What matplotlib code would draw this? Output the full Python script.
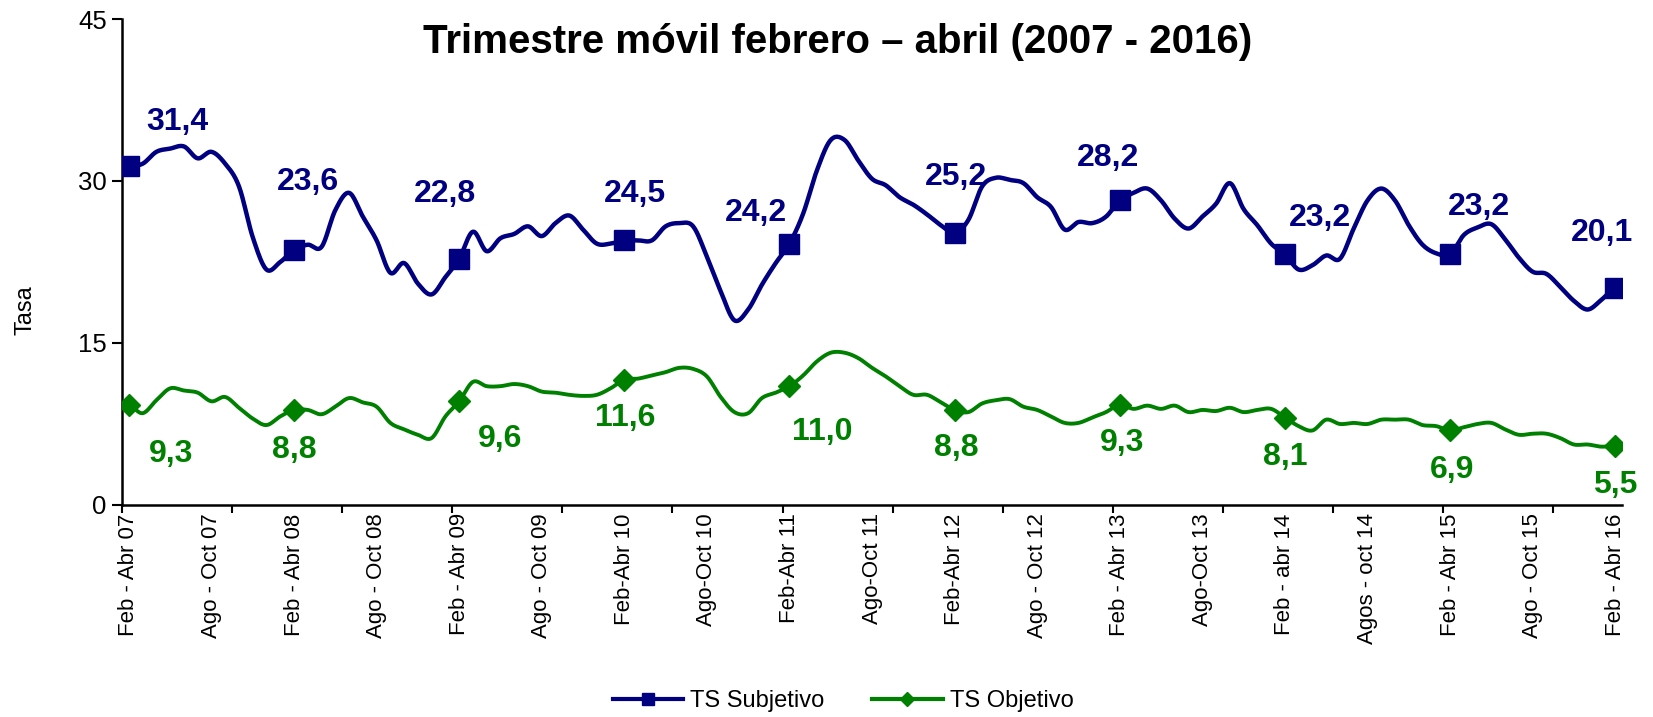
import numpy as np
import matplotlib
matplotlib.use('Agg')
import matplotlib.pyplot as plt
from matplotlib.lines import Line2D

plt.rcParams['font.family'] = ['Liberation Sans', 'DejaVu Sans']

# moving quarter, monthly from Feb-Abr 07 to Feb-Abr 16
ts_subjetivo = [31.4, 31.6, 32.7, 33.0, 33.2, 32.1, 32.7, 31.6, 29.5, 24.8,
                21.8, 22.5, 23.6, 24.1, 23.9, 27.3, 28.9, 26.7, 24.5, 21.5,
                22.4, 20.5, 19.5, 21.1, 22.8, 25.3, 23.5, 24.7, 25.1, 25.8,
                24.9, 26.1, 26.8, 25.5, 24.2, 24.2, 24.5, 24.5, 24.5, 25.8,
                26.1, 25.8, 23.0, 19.8, 17.1, 18.1, 20.4, 22.4, 24.2, 27.0,
                31.0, 33.8, 33.8, 31.9, 30.2, 29.6, 28.5, 27.8, 26.9, 25.9,
                25.2, 26.4, 29.5, 30.3, 30.1, 29.8, 28.5, 27.6, 25.5, 26.2,
                26.1, 26.7, 28.2, 28.9, 29.3, 28.2, 26.5, 25.6, 26.7, 27.9,
                29.8, 27.4, 25.9, 24.2, 23.2, 21.8, 22.2, 23.1, 22.8, 25.6,
                28.2, 29.3, 28.2, 25.9, 24.1, 23.3, 23.2, 25.0, 25.7, 26.0,
                24.6, 22.9, 21.6, 21.4, 20.2, 18.9, 18.1, 19.0, 20.1]

ts_objetivo = [9.3, 8.5, 9.7, 10.8, 10.6, 10.4, 9.6, 10.0, 9.0, 8.0,
               7.4, 8.2, 8.8, 8.8, 8.4, 9.1, 9.9, 9.5, 9.1, 7.6,
               7.0, 6.5, 6.2, 8.2, 9.6, 11.4, 11.0, 11.0, 11.2, 11.0,
               10.5, 10.4, 10.2, 10.1, 10.2, 10.8, 11.6, 11.7, 12.0, 12.3,
               12.7, 12.6, 11.9, 10.0, 8.6, 8.5, 9.9, 10.4, 11.0, 12.0,
               13.3, 14.1, 14.1, 13.6, 12.7, 11.9, 11.0, 10.2, 10.2, 9.5,
               8.8, 8.6, 9.4, 9.7, 9.8, 9.1, 8.8, 8.2, 7.6, 7.6,
               8.1, 8.6, 9.3, 8.9, 9.2, 8.9, 9.2, 8.6, 8.8, 8.7,
               9.0, 8.6, 8.8, 8.9, 8.1, 7.3, 6.9, 7.9, 7.5, 7.6,
               7.5, 7.9, 7.9, 7.9, 7.4, 7.3, 6.9, 7.2, 7.5, 7.6,
               7.0, 6.5, 6.6, 6.6, 6.2, 5.6, 5.6, 5.4, 5.5]

periodos = ['Feb - Abr 07', 'Ago - Oct 07', 'Feb - Abr 08', 'Ago - Oct 08',
            'Feb - Abr 09', 'Ago - Oct 09', 'Feb-Abr 10', 'Ago-Oct 10',
            'Feb-Abr 11', 'Ago-Oct 11', 'Feb-Abr 12', 'Ago - Oct 12',
            'Feb - Abr 13', 'Ago-Oct 13', 'Feb - abr 14', 'Agos - oct 14',
            'Feb - Abr 15', 'Ago - Oct 15', 'Feb - Abr 16']

# label offsets (points) from the Feb-Abr markers
off_subj = [(34.6, 31.7), (10.1, 49), (-10.1, 46.8), (7.9, 33.1), (-24.5, 22.3),
            (0.7, 40.3), (-8.6, 30.2), (25.2, 25.9), (20.9, 33.8), (-9.4, 39.6)]
off_obj = [(30.2, -35.3), (0, -28.8), (29.5, -27.4), (0.7, -27.4), (23.8, -33.1),
           (1.4, -27.4), (1.4, -27.4), (0, -28.1), (1.4, -28.8), (0, -28.1)]

BLUE = '#000080'
GREEN = '#008000'


def smooth(y, n=16):
    # excel-like smoothed line (bezier through every point)
    y = np.asarray(y, float)
    p = np.concatenate([[y[0]], y, [y[-1]]])
    t = np.linspace(0, 1, n, endpoint=False)
    xs = []
    ys = []
    for i in range(len(y) - 1):
        p0, p1, p2, p3 = p[i], p[i + 1], p[i + 2], p[i + 3]
        c1 = p1 + (p2 - p0) / 6
        c2 = p2 - (p3 - p1) / 6
        b = (1 - t)**3 * p1 + 3 * (1 - t)**2 * t * c1 + 3 * (1 - t) * t**2 * c2 + t**3 * p2
        xs.append(i + t)
        ys.append(b)
    xs.append([len(y) - 1])
    ys.append([y[-1]])
    return np.concatenate(xs), np.concatenate(ys)


fig = plt.figure(figsize=(16.53, 7.17), dpi=100)
ax = fig.add_axes([0.0738, 0.2957, 0.9075, 0.6778])

x = np.arange(len(ts_subjetivo))
mk = x[::12]

sx, sy = smooth(ts_subjetivo)
ax.plot(sx, sy, color=BLUE, lw=3.2, solid_capstyle='round', zorder=3)
ax.plot(mk, np.array(ts_subjetivo)[mk], ls='none', marker='s', ms=14,
        color=BLUE, zorder=4)

gx, gy = smooth(ts_objetivo)
ax.plot(gx, gy, color=GREEN, lw=2.8, solid_capstyle='round', zorder=3)
ax.plot(mk, np.array(ts_objetivo)[mk], ls='none', marker='D', ms=11,
        color=GREEN, zorder=4)

for k, i in enumerate(mk):
    v = ts_subjetivo[i]
    ax.annotate(('%.1f' % v).replace('.', ','), (i, v), xytext=off_subj[k],
                textcoords='offset points', ha='center', va='center',
                fontsize=23, fontweight='bold', color=BLUE)
    v = ts_objetivo[i]
    ax.annotate(('%.1f' % v).replace('.', ','), (i, v), xytext=off_obj[k],
                textcoords='offset points', ha='center', va='center',
                fontsize=23, fontweight='bold', color=GREEN)

ax.set_xlim(-0.5, len(x) - 0.5)
ax.set_ylim(0, 45)
ax.set_yticks([0, 15, 30, 45])
ax.tick_params(axis='y', labelsize=18.5, length=7, width=1.5, direction='out', pad=4)

ax.set_xticks(x[::6])
ax.set_xticklabels(periodos, rotation=90, fontsize=16)
ax.set_xticks(np.arange(-0.5, len(x), 8), minor=True)
ax.tick_params(axis='x', which='major', length=0, pad=6)
ax.tick_params(axis='x', which='minor', length=6, width=1.5, direction='out')

for s in ['top', 'right']:
    ax.spines[s].set_visible(False)
for s in ['left', 'bottom']:
    ax.spines[s].set_linewidth(1.8)

ax.set_ylabel('Tasa', fontsize=17)
ax.yaxis.set_label_coords(-0.057, 0.40)

ax.set_title('Trimestre móvil febrero – abril (2007 - 2016)', x=0.477, y=0.93,
             pad=0, fontsize=29, fontweight='bold')

handles = [Line2D([], [], color=BLUE, lw=3, marker='s', ms=9),
           Line2D([], [], color=GREEN, lw=3, marker='D', ms=7)]
fig.legend(handles, ['TS Subjetivo', 'TS Objetivo'], loc='center',
           bbox_to_anchor=(0.51, 0.022), ncol=2, frameon=False, fontsize=17,
           handlelength=3.0, handletextpad=0.3, columnspacing=2.0, numpoints=1)

fig.savefig('out.png', dpi=100)
